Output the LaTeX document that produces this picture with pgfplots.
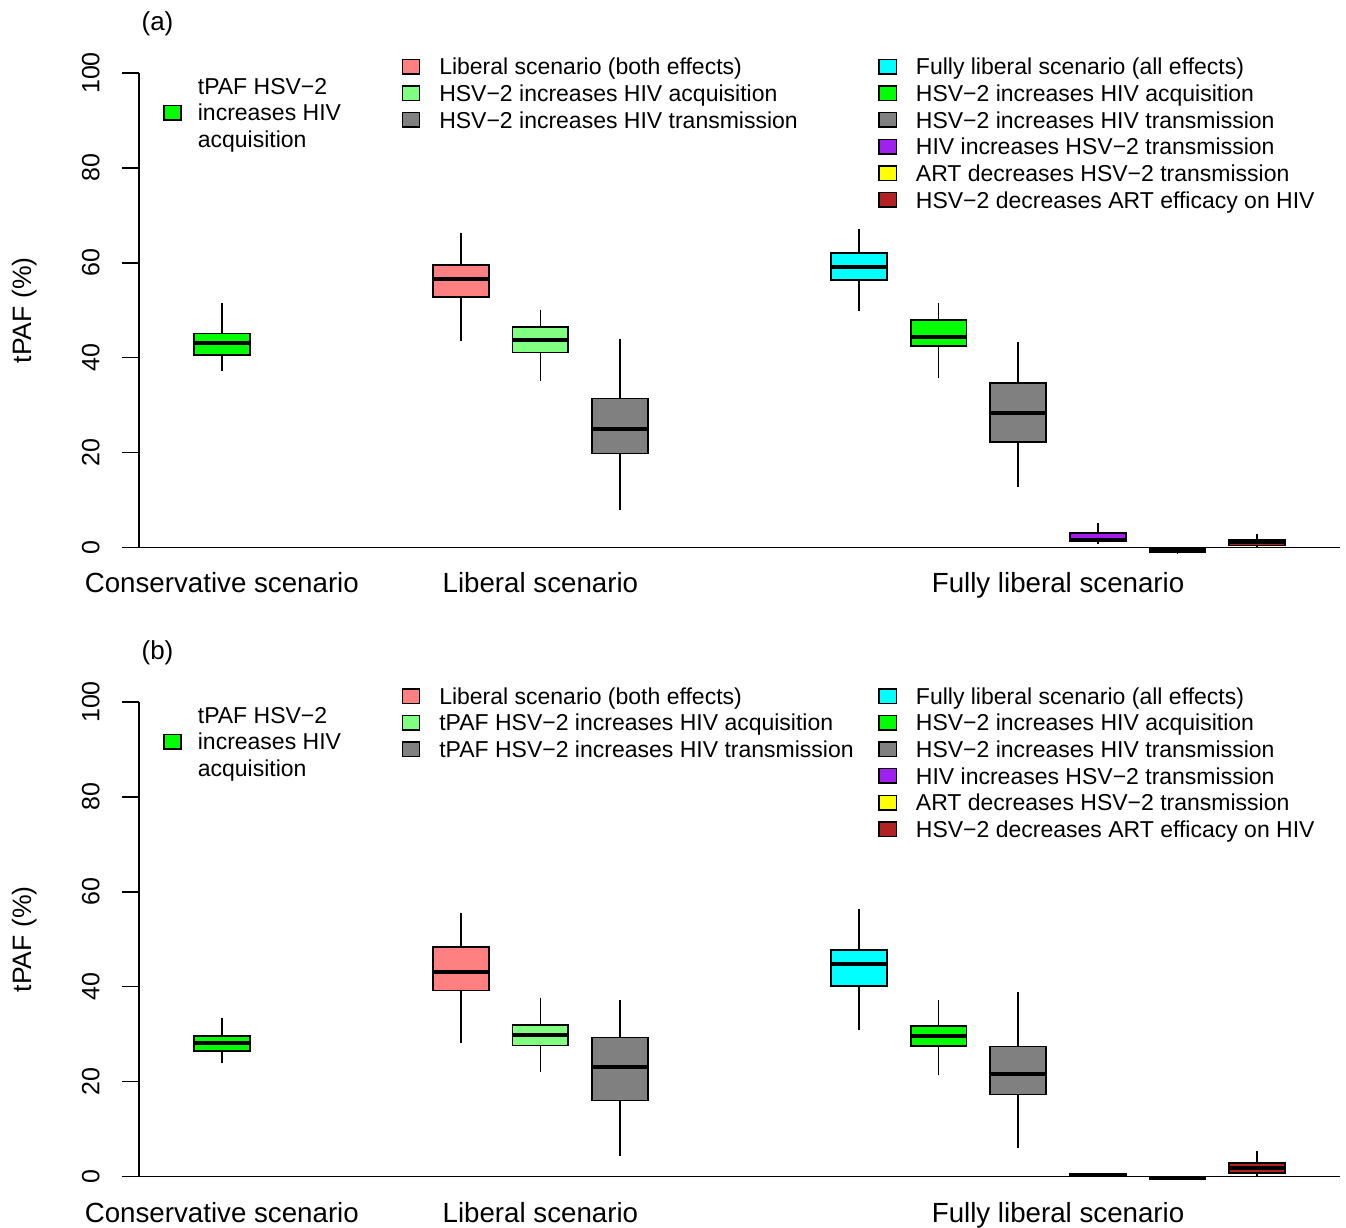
\documentclass[border=0pt]{standalone}
\usepackage{fontspec}
\setmainfont{Liberation Sans}
\usepackage{pgfplots}
\pgfplotsset{compat=1.18}
\usepgfplotslibrary{statistics}

\definecolor{cgreen}{RGB}{0,255,0}
\definecolor{csalmon}{RGB}{255,128,128}
\definecolor{clgreen}{RGB}{128,255,128}
\definecolor{cgrey}{RGB}{128,128,128}
\definecolor{ccyan}{RGB}{0,255,255}
\definecolor{cpurple}{RGB}{160,32,240}
\definecolor{cyellow}{RGB}{255,255,0}
\definecolor{cbrown}{RGB}{178,34,34}

\pgfplotsset{
  mainax/.style={
    scale only axis, width=600.5pt, height=237.25pt,
    xmin=-0.04, xmax=15.04, ymin=0, ymax=100,
    clip=false,
    axis lines*=left,
    axis line style={line width=0.8pt, black},
    tick align=outside,
    major tick length=8.35pt,
    ytick={0,20,...,100},
    ytick style={line width=0.8pt, black},
    xtick={1,5,11.5},
    xticklabels={Conservative scenario, Liberal scenario, Fully liberal scenario},
    xtick style={draw=none},
    xticklabel style={font=\fontsize{13.85}{16}\selectfont, anchor=base, inner sep=0pt},
    xticklabel shift=14.4pt,
    yticklabel style={font=\fontsize{12.5}{15}\selectfont, rotate=90, anchor=south, inner sep=0pt},
    yticklabel shift=11.15pt,
    /pgf/number format/assume math mode=true,
    every axis y label/.style={at={(axis description cs:-0.0949,0.5)}, rotate=90, anchor=center, font=\fontsize{13.3}{16}\selectfont},
    ylabel={tPAF (\%)},
    boxplot/draw direction=y,
    boxplot/box extend=0.7,
    boxplot/whisker extend=0,
    boxplot/every median/.style={line width=2pt, black},
    boxplot/every whisker/.style={line width=0.8pt, black},
  },
  bx/.style={draw=black, line width=0.9pt, fill=#1, mark=none},
  legax/.style={
    scale only axis, width=600.5pt, height=237.25pt,
    xmin=0, xmax=1, ymin=0, ymax=1, hide axis,
    legend cell align=left,
    legend style={draw=none, fill=none, inner sep=0pt, outer sep=0pt,
      row sep=0pt, column sep=9.5pt,
      font=\fontsize{11.5}{13.3}\selectfont,
      nodes={inner sep=0pt, outer sep=0pt, text height=10.8pt, text depth=2.53pt}},
    legend image code/.code={\draw[#1] (0pt,-3.6pt) rectangle (8.6pt,3.6pt);},
  },
  sq/.style={draw=black, line width=0.7pt, fill=#1},
}

\begin{document}
\begin{tikzpicture}
\useasboundingbox (0,0) rectangle (673pt,614pt);

% ---------------- Panel (a) ----------------
\begin{axis}[mainax, at={(69.5pt,340.25pt)}, anchor=south west]
\addplot[bx=cgreen, boxplot prepared={draw position=1, lower whisker=37.1, lower quartile=40.5, median=43.0, upper quartile=45.1, upper whisker=51.5}] coordinates {};
\addplot[bx=csalmon, boxplot prepared={draw position=4, lower whisker=43.5, lower quartile=52.8, median=56.5, upper quartile=59.5, upper whisker=66.3}] coordinates {};
\addplot[bx=clgreen, boxplot prepared={draw position=5, lower whisker=35.1, lower quartile=41.1, median=43.7, upper quartile=46.5, upper whisker=50.1}] coordinates {};
\addplot[bx=cgrey, boxplot prepared={draw position=6, lower whisker=7.8, lower quartile=19.8, median=24.9, upper quartile=31.4, upper whisker=43.9}] coordinates {};
\addplot[bx=ccyan, boxplot prepared={draw position=9, lower whisker=49.9, lower quartile=56.3, median=59.2, upper quartile=62.0, upper whisker=67.1}] coordinates {};
\addplot[bx=cgreen, boxplot prepared={draw position=10, lower whisker=35.7, lower quartile=42.5, median=44.4, upper quartile=48.0, upper whisker=51.5}] coordinates {};
\addplot[bx=cgrey, boxplot prepared={draw position=11, lower whisker=12.8, lower quartile=22.3, median=28.4, upper quartile=34.6, upper whisker=43.3}] coordinates {};
\addplot[bx=cpurple, boxplot prepared={draw position=12, lower whisker=0.7, lower quartile=1.4, median=1.55, upper quartile=3.0, upper whisker=5.1}] coordinates {};
\addplot[bx=cyellow, boxplot prepared={draw position=13, lower whisker=-1.3, lower quartile=-1.0, median=-0.5, upper quartile=-0.05, upper whisker=0.1}] coordinates {};
\addplot[bx=cbrown, boxplot prepared={draw position=14, lower whisker=-0.1, lower quartile=0.4, median=1.1, upper quartile=1.7, upper whisker=2.8}] coordinates {};
\node[font=\fontsize{13}{15}\selectfont, anchor=center] at (axis description cs:0.0154,1.1043) {(a)};
\end{axis}

\begin{axis}[legax, at={(69.5pt,340.25pt)}, anchor=south west,
  legend style={at={(axis description cs:0.0202,1.0006)}, anchor=north west, column sep=8pt}]
\addlegendimage{empty legend}
\addlegendentry{tPAF HSV−2}
\addlegendimage{sq=cgreen}
\addlegendentry{increases HIV}
\addlegendimage{empty legend}
\addlegendentry{acquisition}
\end{axis}

\begin{axis}[legax, at={(69.5pt,340.25pt)}, anchor=south west,
  legend style={at={(axis description cs:0.2187,1.0415)}, anchor=north west}]
\addlegendimage{sq=csalmon}
\addlegendentry{Liberal scenario (both effects)}
\addlegendimage{sq=clgreen}
\addlegendentry{HSV−2 increases HIV acquisition}
\addlegendimage{sq=cgrey}
\addlegendentry{HSV−2 increases HIV transmission}
\end{axis}

\begin{axis}[legax, at={(69.5pt,340.25pt)}, anchor=south west,
  legend style={at={(axis description cs:0.6156,1.0415)}, anchor=north west}]
\addlegendimage{sq=ccyan}
\addlegendentry{Fully liberal scenario (all effects)}
\addlegendimage{sq=cgreen}
\addlegendentry{HSV−2 increases HIV acquisition}
\addlegendimage{sq=cgrey}
\addlegendentry{HSV−2 increases HIV transmission}
\addlegendimage{sq=cpurple}
\addlegendentry{HIV increases HSV−2 transmission}
\addlegendimage{sq=cyellow}
\addlegendentry{ART decreases HSV−2 transmission}
\addlegendimage{sq=cbrown}
\addlegendentry{HSV−2 decreases ART efficacy on HIV}
\end{axis}

% ---------------- Panel (b) ----------------
\begin{axis}[mainax, at={(69.5pt,25.75pt)}, anchor=south west]
\addplot[bx=cgreen, boxplot prepared={draw position=1, lower whisker=23.9, lower quartile=26.4, median=28.2, upper quartile=29.6, upper whisker=33.3}] coordinates {};
\addplot[bx=csalmon, boxplot prepared={draw position=4, lower whisker=28.1, lower quartile=39.2, median=43.2, upper quartile=48.4, upper whisker=55.6}] coordinates {};
\addplot[bx=clgreen, boxplot prepared={draw position=5, lower whisker=22.0, lower quartile=27.6, median=29.9, upper quartile=32.0, upper whisker=37.7}] coordinates {};
\addplot[bx=cgrey, boxplot prepared={draw position=6, lower whisker=4.4, lower quartile=16.0, median=23.0, upper quartile=29.3, upper whisker=37.1}] coordinates {};
\addplot[bx=ccyan, boxplot prepared={draw position=9, lower whisker=30.9, lower quartile=40.2, median=44.7, upper quartile=47.8, upper whisker=56.4}] coordinates {};
\addplot[bx=cgreen, boxplot prepared={draw position=10, lower whisker=21.3, lower quartile=27.5, median=29.6, upper quartile=31.7, upper whisker=37.2}] coordinates {};
\addplot[bx=cgrey, boxplot prepared={draw position=11, lower whisker=6.0, lower quartile=17.3, median=21.5, upper quartile=27.4, upper whisker=38.9}] coordinates {};
\addplot[bx=cpurple, boxplot prepared={draw position=12, lower whisker=0.0, lower quartile=0.1, median=0.3, upper quartile=0.5, upper whisker=0.7}] coordinates {};
\addplot[bx=cyellow, boxplot prepared={draw position=13, lower whisker=-0.7, lower quartile=-0.55, median=-0.3, upper quartile=-0.05, upper whisker=0.1}] coordinates {};
\addplot[bx=cbrown, boxplot prepared={draw position=14, lower whisker=0.0, lower quartile=0.7, median=1.8, upper quartile=2.8, upper whisker=5.4}] coordinates {};
\node[font=\fontsize{13}{15}\selectfont, anchor=center] at (axis description cs:0.0154,1.1043) {(b)};
\end{axis}

\begin{axis}[legax, at={(69.5pt,25.75pt)}, anchor=south west,
  legend style={at={(axis description cs:0.0202,1.0006)}, anchor=north west, column sep=8pt}]
\addlegendimage{empty legend}
\addlegendentry{tPAF HSV−2}
\addlegendimage{sq=cgreen}
\addlegendentry{increases HIV}
\addlegendimage{empty legend}
\addlegendentry{acquisition}
\end{axis}

\begin{axis}[legax, at={(69.5pt,25.75pt)}, anchor=south west,
  legend style={at={(axis description cs:0.2187,1.0407)}, anchor=north west}]
\addlegendimage{sq=csalmon}
\addlegendentry{Liberal scenario (both effects)}
\addlegendimage{sq=clgreen}
\addlegendentry{tPAF HSV−2 increases HIV acquisition}
\addlegendimage{sq=cgrey}
\addlegendentry{tPAF HSV−2 increases HIV transmission}
\end{axis}

\begin{axis}[legax, at={(69.5pt,25.75pt)}, anchor=south west,
  legend style={at={(axis description cs:0.6156,1.0407)}, anchor=north west}]
\addlegendimage{sq=ccyan}
\addlegendentry{Fully liberal scenario (all effects)}
\addlegendimage{sq=cgreen}
\addlegendentry{HSV−2 increases HIV acquisition}
\addlegendimage{sq=cgrey}
\addlegendentry{HSV−2 increases HIV transmission}
\addlegendimage{sq=cpurple}
\addlegendentry{HIV increases HSV−2 transmission}
\addlegendimage{sq=cyellow}
\addlegendentry{ART decreases HSV−2 transmission}
\addlegendimage{sq=cbrown}
\addlegendentry{HSV−2 decreases ART efficacy on HIV}
\end{axis}
\end{tikzpicture}
\end{document}
